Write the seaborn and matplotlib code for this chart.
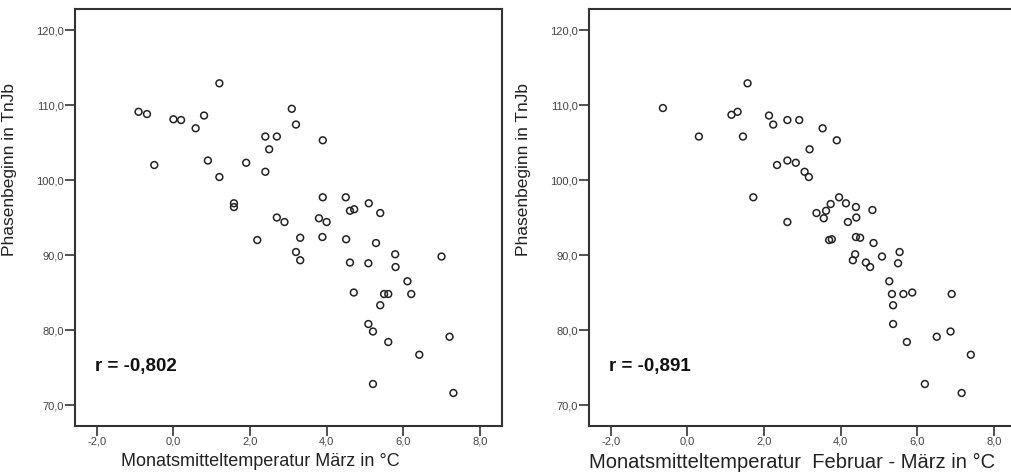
import pandas as pd
import numpy as np
import matplotlib
matplotlib.use("Agg")
import matplotlib.pyplot as plt
import seaborn as sns

# --- Daten: Monatsmitteltemperatur (°C) vs. Phasenbeginn (TnJb) ---
# links: März
temp_maerz = [-0.91, -0.69, 0.0, 0.2, 0.80, 0.58, 1.20, -0.50, 0.90, 1.20,
              1.90, 1.58, 1.58, 3.09, 3.20, 2.40, 2.70, 2.50, 3.90, 2.40,
              3.90, 4.50, 5.10, 4.61, 4.72, 5.40, 2.70, 2.90, 3.80, 4.00,
              2.19, 3.31, 3.89, 4.51, 5.29, 3.20, 3.31, 4.61, 5.09, 5.79,
              5.80, 7.00, 6.11, 4.71, 5.50, 5.61, 6.21, 5.40, 5.09, 5.21,
              5.61, 7.21, 6.42, 5.21, 7.31]
beginn_maerz = [109.1, 108.8, 108.1, 108.0, 108.6, 106.9, 112.9, 102.0, 102.6, 100.4,
                102.3, 96.9, 96.4, 109.5, 107.4, 105.8, 105.8, 104.1, 105.3, 101.1,
                97.7, 97.7, 96.9, 95.9, 96.1, 95.6, 95.0, 94.4, 94.9, 94.4,
                92.0, 92.3, 92.4, 92.1, 91.6, 90.4, 89.3, 89.0, 88.9, 90.1,
                88.4, 89.8, 86.5, 85.0, 84.8, 84.8, 84.8, 83.3, 80.8, 79.8,
                78.4, 79.1, 76.7, 72.8, 71.6]

# rechts: Februar - März
temp_febmaerz = [-0.64, 0.30, 1.57, 1.15, 1.31, 1.45, 1.72, 2.13, 2.24, 2.61,
                 2.92, 3.53, 3.90, 3.19, 2.34, 2.61, 2.83, 3.06, 3.17, 3.96,
                 3.74, 4.14, 4.40, 4.83, 3.37, 3.62, 3.56, 4.41, 4.19, 2.61,
                 3.70, 3.77, 4.40, 4.51, 4.86, 4.38, 4.32, 4.66, 4.77, 5.08,
                 5.54, 5.50, 5.27, 5.34, 5.64, 5.87, 6.90, 5.37, 5.37, 6.51,
                 6.87, 5.73, 7.40, 6.20, 7.16]
beginn_febmaerz = [109.6, 105.8, 112.9, 108.7, 109.1, 105.8, 97.7, 108.6, 107.4, 108.0,
                   108.0, 106.9, 105.3, 104.1, 102.0, 102.6, 102.3, 101.1, 100.4, 97.7,
                   96.8, 96.9, 96.4, 96.0, 95.6, 95.9, 94.9, 95.0, 94.4, 94.4,
                   92.0, 92.1, 92.4, 92.3, 91.6, 90.1, 89.3, 89.0, 88.4, 89.8,
                   90.4, 88.9, 86.5, 84.8, 84.8, 85.0, 84.8, 83.3, 80.8, 79.1,
                   79.8, 78.4, 76.7, 72.8, 71.6]

x_ticks = [-2.0, 0.0, 2.0, 4.0, 6.0, 8.0]
y_ticks = [70.0, 80.0, 90.0, 100.0, 110.0, 120.0]

# (x, y, x-Beschriftung, r-Text, x-Position der Beschriftung, Schriftgröße)
PANELS = [
    (temp_maerz, beginn_maerz, "Monatsmitteltemperatur März in °C", "r = -0,802", 0.434, 13),
    (temp_febmaerz, beginn_febmaerz, "Monatsmitteltemperatur  Februar - März in °C", "r = -0,891", 0.476, 14.5),
]

sns.set_style("white")
plt.rcParams['font.family'] = ['Liberation Sans', 'DejaVu Sans']

fig = plt.figure(figsize=(10.12, 4.74), dpi=100)
ax_pos = [(0.0741, 0.1019, 0.4216, 0.879), (0.582, 0.1019, 0.4216, 0.879)]


def fmt(v):
    # deutsches Dezimalkomma
    return f"{v:.1f}".replace('.', ',')


for (xs, ys, xlabel, rtext, xlab_pos, xlab_fs), pos in zip(PANELS, ax_pos):
    ax = fig.add_axes(pos)
    df = pd.DataFrame({'temp': xs, 'beginn': ys})
    sns.scatterplot(data=df, x='temp', y='beginn', ax=ax, s=24,
                    facecolor='none', edgecolor='#222222', linewidth=1.1)
    ax.set_xlim(-2.57, 8.57)
    ax.set_ylim(67.24, 122.8)
    ax.set_xticks(x_ticks)
    ax.set_xticklabels([fmt(v) for v in x_ticks])
    ax.set_yticks(y_ticks)
    ax.set_yticklabels([fmt(v) for v in y_ticks])
    ax.tick_params(axis='both', direction='out', length=7, width=1.2,
                   color='#333333', labelsize=8, labelcolor='#444444', pad=1,
                   left=True, bottom=True)
    for sp in ax.spines.values():
        sp.set_visible(True)
        sp.set_color('#333333')
        sp.set_linewidth(1.5)
    ax.set_xlabel(xlabel, fontsize=xlab_fs, color='#222222')
    ax.set_ylabel('Phasenbeginn in TnJb', fontsize=12.5, color='#222222')
    ax.xaxis.set_label_coords(xlab_pos, -0.065)
    ax.yaxis.set_label_coords(-0.135, 0.614)
    ax.text(0.047, 0.142, rtext, transform=ax.transAxes, fontsize=13.5,
            fontweight='bold', va='center', ha='left', color='#111111')

fig.savefig('out.png', dpi=100)
